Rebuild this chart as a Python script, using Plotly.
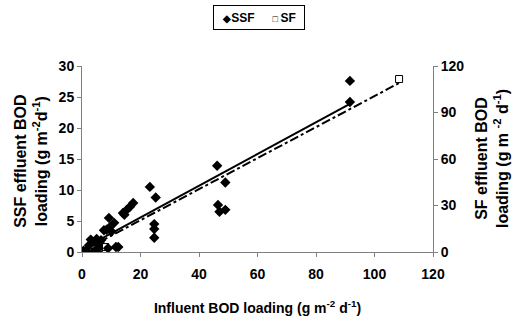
import plotly.graph_objects as go

# SSF data (left axis)
ssf_x = [0.5, 1.4, 2.4, 3.8, 4.1, 5.5, 6.5, 7.5, 8.9, 9.3, 9.2, 10.1, 8.4, 11.0, 11.6, 12.4,
         14.0, 15.3, 16.4, 17.5, 23.2, 25.2, 24.7, 24.7, 24.7, 46.2, 46.5, 47.0, 49.0, 49.0,
         91.6, 91.6, 3.0, 5.0, 6.0, 14.5]
ssf_y = [0.2, 0.1, 1.1, 0.0, 1.6, 0.6, 1.9, 3.5, 0.6, 3.9, 5.5, 3.3, 3.6, 4.7, 0.8, 0.8,
         6.3, 6.8, 7.3, 7.9, 10.5, 8.8, 4.5, 3.7, 2.3, 13.9, 7.6, 6.5, 6.8, 11.2,
         27.6, 24.2, 2.0, 2.1, 1.5, 6.0]

# SF data (right axis)
sf_x = [1.4, 2.7, 3.8, 5.8, 7.9, 108.4]
sf_y = [0.6, 0.0, 2.6, 2.6, 3.2, 111.6]

# Trend lines (endpoints of fitted lines)
ssf_trend_x = [0.5, 91.6]
ssf_trend_y = [0.57, 23.9]
sf_trend_x = [0.5, 108.4]
sf_trend_y = [1.0, 109.0]

series_names = ["SSF", "SF"]
x_title = "Influent BOD loading (g m<sup>-2</sup> d<sup>-1</sup>)"
y_title = "SSF effluent BOD<br>loading (g m<sup>-2</sup>d<sup>-1</sup>)"
y2_title = "SF effluent BOD<br>loading (g m <sup>-2</sup> d<sup>-1</sup>)"

FONT = "Liberation Sans, Arial, sans-serif"

fig = go.Figure()
fig.add_trace(go.Scatter(x=ssf_trend_x, y=ssf_trend_y, mode="lines",
                         line=dict(color="black", width=2), showlegend=False, hoverinfo="skip"))
fig.add_trace(go.Scatter(x=sf_trend_x, y=sf_trend_y, mode="lines", yaxis="y2",
                         line=dict(color="black", width=2, dash="dashdot"), showlegend=False,
                         hoverinfo="skip"))
fig.add_trace(go.Scatter(x=ssf_x, y=ssf_y, mode="markers", name=series_names[0],
                         showlegend=False,
                         marker=dict(symbol="diamond", size=8, color="black")))
fig.add_trace(go.Scatter(x=sf_x, y=sf_y, mode="markers", name=series_names[1], yaxis="y2",
                         showlegend=False,
                         marker=dict(symbol="square-open", size=7, color="black",
                                     line=dict(width=1))))

tickfont = dict(family=FONT, size=14, color="black", weight="bold")
titlefont = dict(family=FONT, size=14, color="black", weight="bold")
vtitlefont = dict(family=FONT, size=16, color="black", weight="bold")

legend_text = (f"<span style='font-size:10px'>\u25c6</span>{series_names[0]}\u2003\u2002"
               f"<span style='font-size:9px'>\u25a1</span>\u2009{series_names[1]}")

fig.update_layout(
    width=517, height=325,
    margin=dict(l=82, r=84, t=66, b=73),
    paper_bgcolor="white", plot_bgcolor="white",
    font=dict(family=FONT, size=12, color="black", weight="bold"),
    showlegend=False,
    xaxis=dict(range=[0, 120], dtick=20, showline=True, linecolor="#808080", linewidth=1,
               ticks="outside", ticklen=4, tickcolor="#808080", showgrid=False, zeroline=False,
               tickfont=tickfont, ticklabelstandoff=5,
               title=dict(text=x_title, standoff=22, font=titlefont)),
    yaxis=dict(range=[0, 30], dtick=5, showline=True, linecolor="#808080", linewidth=1,
               ticks="outside", ticklen=4, tickcolor="#808080", showgrid=False, zeroline=False,
               tickfont=tickfont),
    yaxis2=dict(range=[0, 120], dtick=30, overlaying="y", side="right", showline=True,
                linecolor="#808080", linewidth=1, ticks="outside", ticklen=4,
                tickcolor="#808080", showgrid=False, zeroline=False, tickfont=tickfont),
    annotations=[
        dict(text=y_title, textangle=-90, xref="paper", yref="paper",
             x=(31 - 82) / 351, y=0.49, xanchor="center", yanchor="middle",
             showarrow=False, font=vtitlefont),
        dict(text=y2_title, textangle=-90, xref="paper", yref="paper",
             x=(492 - 82) / 351, y=0.5, xanchor="center", yanchor="middle",
             showarrow=False, font=vtitlefont),
        dict(text=legend_text, xref="paper", yref="paper",
             x=(259 - 82) / 351, y=(252 - 17.5) / 186, xanchor="center", yanchor="middle",
             showarrow=False, bordercolor="black", borderwidth=1, borderpad=2,
             width=86, height=19, bgcolor="white",
             font=dict(family=FONT, size=12, color="black", weight="bold")),
    ],
)

fig.write_html("out.html")
